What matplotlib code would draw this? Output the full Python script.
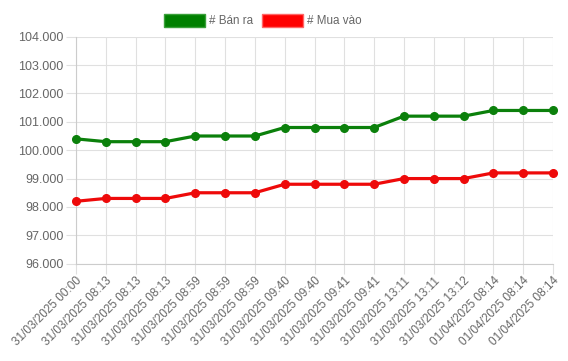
import matplotlib
matplotlib.use("Agg")
import matplotlib.pyplot as plt
from matplotlib.patches import Patch

labels = ["31/03/2025 00:00", "31/03/2025 08:13", "31/03/2025 08:13", "31/03/2025 08:13",
          "31/03/2025 08:59", "31/03/2025 08:59", "31/03/2025 08:59", "31/03/2025 09:40",
          "31/03/2025 09:40", "31/03/2025 09:41", "31/03/2025 09:41", "31/03/2025 13:11",
          "31/03/2025 13:11", "31/03/2025 13:12", "01/04/2025 08:14", "01/04/2025 08:14",
          "01/04/2025 08:14"]
ban_ra = [100.4, 100.3, 100.3, 100.3, 100.5, 100.5, 100.5, 100.8, 100.8, 100.8, 100.8,
          101.2, 101.2, 101.2, 101.4, 101.4, 101.4]
mua_vao = [98.2, 98.3, 98.3, 98.3, 98.5, 98.5, 98.5, 98.8, 98.8, 98.8, 98.8,
           99.0, 99.0, 99.0, 99.2, 99.2, 99.2]
y_ticks = [96, 97, 98, 99, 100, 101, 102, 103, 104]

plt.rcParams['font.family'] = ['Liberation Sans', 'DejaVu Sans']

fig = plt.figure(figsize=(5.68, 3.61), dpi=100)
ax = fig.add_axes([76/568, 1 - 263.7/361, (553 - 76)/568, (263.7 - 36.7)/361])

x = list(range(len(labels)))
green = '#0b800b'
red = '#ee0a0a'
ax.plot(x, ban_ra, color=green, lw=2.3, marker='o', ms=5.5, clip_on=False, zorder=3)
ax.plot(x, mua_vao, color=red, lw=2.3, marker='o', ms=5.5, clip_on=False, zorder=3)

ax.set_xlim(0, len(labels) - 1)
ax.set_ylim(96, 104)
ax.set_yticks(y_ticks)
ax.set_yticklabels([f"{v:.3f}" for v in y_ticks])
ax.set_xticks(x)
ax.set_xticklabels(labels, rotation=45, ha='right', va='top', rotation_mode='anchor',
                   fontsize=8.5)

grid_c = '#e0e0e0'
ax.grid(True, color=grid_c, lw=0.8)
ax.set_axisbelow(True)
for s in ['top', 'right']:
    ax.spines[s].set_visible(False)
for s in ['left', 'bottom']:
    ax.spines[s].set_color('#cccccc')
    ax.spines[s].set_linewidth(0.8)
ax.tick_params(axis='both', colors=grid_c, labelcolor='#666666',
               length=7, width=0.8, pad=2)
ax.tick_params(axis='y', labelsize=9)
ax.tick_params(axis='x', pad=1)

handles = [Patch(facecolor='#008000', edgecolor='#3aa03a', label='# Bán ra'),
           Patch(facecolor='#ff0000', edgecolor='#ff6666', label='# Mua vào')]
fig.legend(handles=handles, loc='center', bbox_to_anchor=(263/568, 1 - 20.5/361), ncol=2,
           frameon=False, fontsize=8.4, labelcolor='#666666', handlelength=3.5,
           handleheight=1.3, handletextpad=0.35, columnspacing=0.8)

fig.savefig('out.png', dpi=100)
